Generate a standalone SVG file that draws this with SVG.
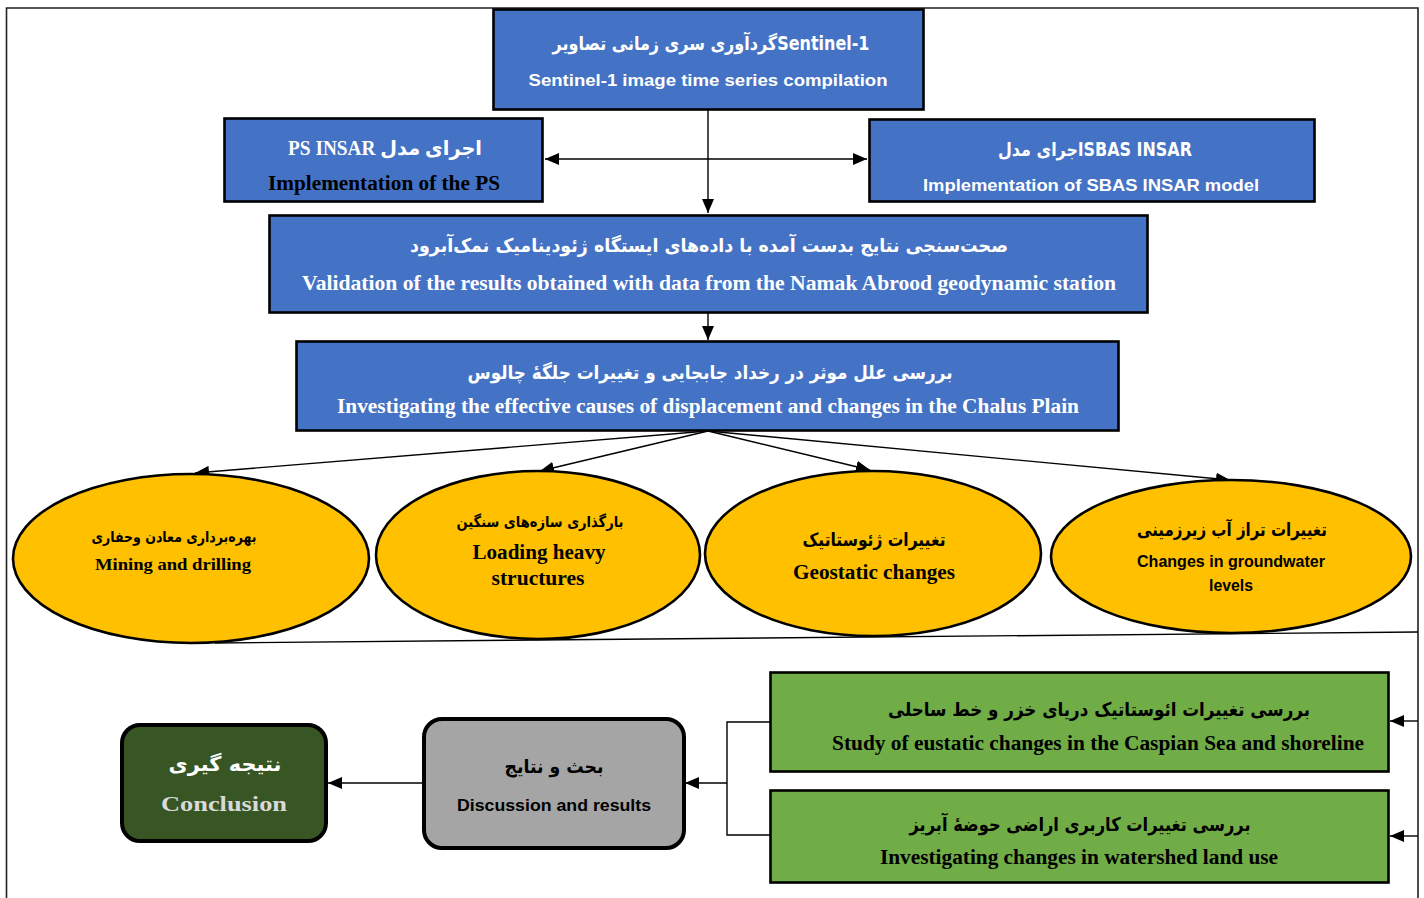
<svg xmlns="http://www.w3.org/2000/svg" width="1424" height="898" viewBox="0 0 1424 898">
<style>
.frame{fill:none;stroke:#222;stroke-width:1.6}
.blue{fill:#4472C4;stroke:#000;stroke-width:2.6}
.ell{fill:#FFC000;stroke:#000;stroke-width:2.6}
.green{fill:#70AD47;stroke:#000;stroke-width:2.6}
.gray{fill:#A5A5A5;stroke:#000;stroke-width:4}
.dkg{fill:#375623;stroke:#000;stroke-width:4}
.con{fill:none;stroke:#000;stroke-width:1.4}
.fa{font-family:"DejaVu Sans",sans-serif;font-weight:bold;text-anchor:middle}
.fas{font-family:"Liberation Serif","DejaVu Sans",serif;font-weight:bold;text-anchor:middle}
.sn{font-family:"Liberation Sans","Open Sans",sans-serif;font-weight:bold;text-anchor:middle}
.sf{font-family:"Liberation Serif","DejaVu Serif",serif;font-weight:bold;text-anchor:middle}
.w{fill:#fff}
.k{fill:#000}
</style>
<defs>
<marker id="arr" markerWidth="14" markerHeight="12" refX="14" refY="6" orient="auto-start-reverse" markerUnits="userSpaceOnUse"><path d="M0,0 L14,6 L0,12 z" fill="#000"/></marker>
</defs>
<g id="frame">
<path class="frame" d="M6.5,898 V8 H1418 V898"/>
</g>
<g id="connectors">
<path class="con" d="M708,109 V213" marker-end="url(#arr)"/>
<path class="con" d="M545,159 H867" marker-start="url(#arr)" marker-end="url(#arr)"/>
<path class="con" d="M708,313 V340" marker-end="url(#arr)"/>
<path class="con" d="M708,431 L195,473" marker-end="url(#arr)"/>
<path class="con" d="M708,431 L540,471" marker-end="url(#arr)"/>
<path class="con" d="M708,431 L870,470" marker-end="url(#arr)"/>
<path class="con" d="M708,431 L1230,480" marker-end="url(#arr)"/>
<path class="con" d="M1418,632 L215,643"/>
<path class="con" d="M1418,721 H1390" marker-end="url(#arr)"/>
<path class="con" d="M1418,836 H1390" marker-end="url(#arr)"/>
<path class="con" d="M770,722 H727 V835 H770"/>
<path class="con" d="M727,783 H685" marker-end="url(#arr)"/>
<path class="con" d="M424,783 H328" marker-end="url(#arr)"/>
</g>
<g id="n-sentinel">
<rect class="blue" x="493.5" y="9.5" width="430" height="100"/>
<text class="fa w" x="711" y="50" font-size="19" textLength="317" lengthAdjust="spacingAndGlyphs">گردآوری سری زمانی تصاویرSentinel-1</text>
<text class="sn w" x="708" y="86" font-size="17" textLength="359" lengthAdjust="spacingAndGlyphs">Sentinel-1 image time series compilation</text>
</g>
<g id="n-ps">
<rect class="blue" x="224.5" y="118.5" width="318" height="83"/>
<text class="fas w" x="385" y="155" font-size="20" textLength="194" lengthAdjust="spacingAndGlyphs">PS INSAR اجرای مدل</text>
<text class="sf k" x="384" y="190" font-size="20" textLength="232" lengthAdjust="spacingAndGlyphs">Implementation of the PS</text>
</g>
<g id="n-sbas">
<rect class="blue" x="869.5" y="119.5" width="445" height="82"/>
<text class="fa w" x="1095" y="156" font-size="19" textLength="194" lengthAdjust="spacingAndGlyphs">اجرای مدلSBAS INSAR</text>
<text class="sn w" x="1091" y="191" font-size="17" textLength="336" lengthAdjust="spacingAndGlyphs">Implementation of SBAS INSAR model</text>
</g>
<g id="n-validation">
<rect class="blue" x="269.5" y="215.5" width="878" height="97"/>
<text class="fa w" x="709" y="252" font-size="19" textLength="598" lengthAdjust="spacingAndGlyphs">صحت‌سنجی نتایج بدست آمده با داده‌های ایستگاه ژئودینامیک نمک‌آبرود</text>
<text class="sf w" x="709" y="290" font-size="21" textLength="814" lengthAdjust="spacingAndGlyphs">Validation of the results obtained with data from the Namak Abrood geodynamic station</text>
</g>
<g id="n-investigating">
<rect class="blue" x="296.5" y="341.5" width="822" height="89"/>
<text class="fa w" x="710" y="379" font-size="19" textLength="485" lengthAdjust="spacingAndGlyphs">بررسی علل موثر در رخداد جابجایی و تغییرات جلگهٔ چالوس</text>
<text class="sf w" x="708" y="413" font-size="20" textLength="742" lengthAdjust="spacingAndGlyphs">Investigating the effective causes of displacement and changes in the Chalus Plain</text>
</g>
<g id="n-mining">
<ellipse class="ell" cx="191" cy="558.5" rx="178" ry="84.5"/>
<text class="fa k" x="174" y="542" font-size="15" textLength="165" lengthAdjust="spacingAndGlyphs">بهره‌برداری معادن وحفاری</text>
<text class="sf k" x="173" y="570" font-size="17" textLength="156" lengthAdjust="spacingAndGlyphs">Mining and drilling</text>
</g>
<g id="n-loading">
<ellipse class="ell" cx="538" cy="555" rx="162" ry="84"/>
<text class="fa k" x="540" y="527" font-size="15" textLength="167" lengthAdjust="spacingAndGlyphs">بارگذاری سازه‌های سنگین</text>
<text class="sf k" x="539" y="559" font-size="20" textLength="133" lengthAdjust="spacingAndGlyphs">Loading heavy</text>
<text class="sf k" x="538" y="585" font-size="20" textLength="93" lengthAdjust="spacingAndGlyphs">structures</text>
</g>
<g id="n-geostatic">
<ellipse class="ell" cx="873" cy="553.5" rx="168" ry="82.5"/>
<text class="fa k" x="874" y="546" font-size="18" textLength="143" lengthAdjust="spacingAndGlyphs">تغییرات ژئوستاتیک</text>
<text class="sf k" x="874" y="579" font-size="20" textLength="162" lengthAdjust="spacingAndGlyphs">Geostatic changes</text>
</g>
<g id="n-groundwater">
<ellipse class="ell" cx="1231" cy="556.5" rx="180" ry="76.5"/>
<text class="fa k" x="1232" y="536" font-size="18" textLength="190" lengthAdjust="spacingAndGlyphs">تغییرات تراز آب زیرزمینی</text>
<text class="sn k" x="1231" y="567" font-size="16" textLength="188" lengthAdjust="spacingAndGlyphs">Changes in groundwater</text>
<text class="sn k" x="1231" y="591" font-size="16" textLength="44" lengthAdjust="spacingAndGlyphs">levels</text>
</g>
<g id="n-eustatic">
<rect class="green" x="770.5" y="672.5" width="618" height="99"/>
<text class="fa k" x="1099" y="716" font-size="19" textLength="422" lengthAdjust="spacingAndGlyphs">بررسی تغییرات ائوستاتیک دریای خزر و خط ساحلی</text>
<text class="sf k" x="1098" y="750" font-size="20" textLength="532" lengthAdjust="spacingAndGlyphs">Study of eustatic changes in the Caspian Sea and shoreline</text>
</g>
<g id="n-landuse">
<rect class="green" x="770.5" y="790.5" width="618" height="92"/>
<text class="fa k" x="1080" y="831" font-size="19" textLength="341" lengthAdjust="spacingAndGlyphs">بررسی تغییرات کاربری اراضی حوضهٔ آبریز</text>
<text class="sf k" x="1079" y="864" font-size="20" textLength="398" lengthAdjust="spacingAndGlyphs">Investigating changes in watershed land use</text>
</g>
<g id="n-discussion">
<rect class="gray" x="424" y="719" width="260" height="129" rx="18"/>
<text class="fa k" x="554" y="773" font-size="19" textLength="99" lengthAdjust="spacingAndGlyphs">بحث و نتایج</text>
<text class="sn k" x="554" y="811" font-size="17" textLength="194" lengthAdjust="spacingAndGlyphs">Discussion and results</text>
</g>
<g id="n-conclusion">
<rect class="dkg" x="122" y="725" width="204" height="116" rx="18"/>
<text class="fa w" x="225" y="771" font-size="20" textLength="113" lengthAdjust="spacingAndGlyphs">نتیجه گیری</text>
<text class="sf" fill="#D9D9D9" x="224" y="811" font-size="22" textLength="126" lengthAdjust="spacingAndGlyphs">Conclusion</text>
</g>
</svg>
